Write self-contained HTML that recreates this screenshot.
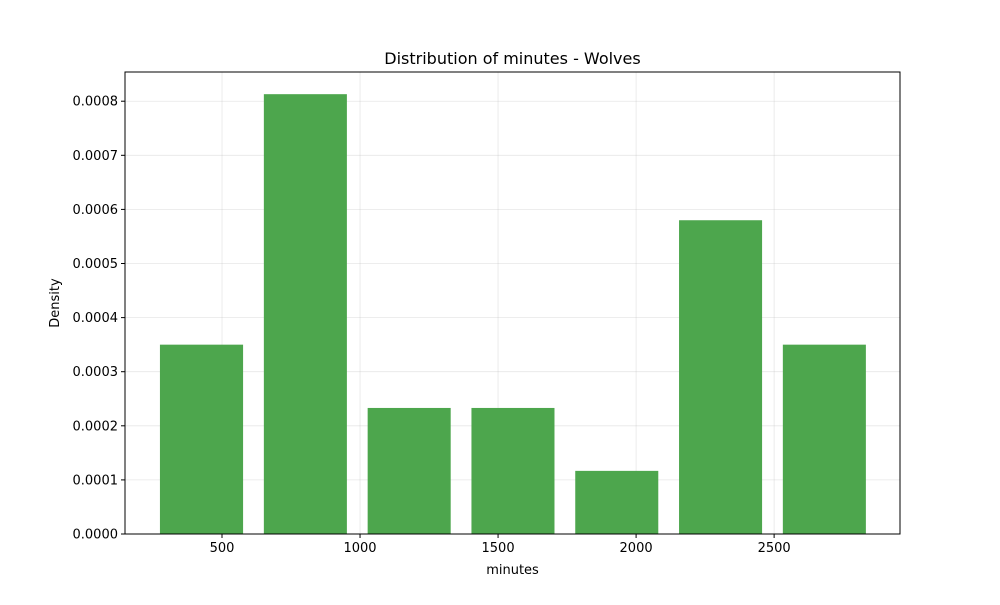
<!DOCTYPE html>
<html><head><meta charset="utf-8"><style>
body{margin:0;background:#fff;font-family:"Liberation Sans","DejaVu Sans",sans-serif;}
svg text{font-family:"DejaVu Sans","Liberation Sans",sans-serif;font-size:13px;fill:#000;}
</style></head><body>
<svg id="chart" width="1000" height="600"></svg>
<script>
const binEdges = [237.5, 614, 990, 1366, 1742, 2118, 2494, 2870];
const densities = [0.00035, 0.000813, 0.000233, 0.000233, 0.0001167, 0.00058, 0.00035];
const xTicks = [500, 1000, 1500, 2000, 2500];
const yTicks = [0, 0.0001, 0.0002, 0.0003, 0.0004, 0.0005, 0.0006, 0.0007, 0.0008];
const yTickLabels = ["0.0000","0.0001","0.0002","0.0003","0.0004","0.0005","0.0006","0.0007","0.0008"];

const L=125,R=900,T=72,B=534;
const xMin=148.6,xMax=2956,yMax=0.000854;
const sx=v=>L+(v-xMin)/(xMax-xMin)*(R-L);
const sy=v=>B-v/yMax*(B-T);
const svg=document.getElementById('chart');
const NS='http://www.w3.org/2000/svg';
function mk(tag,attrs,parent){const e=document.createElementNS(NS,tag);for(const k in attrs)e.setAttribute(k,attrs[k]);(parent||svg).appendChild(e);return e;}

const grid=mk('g',{});


xTicks.forEach(v=>{mk('line',{x1:sx(v),x2:sx(v),y1:T,y2:B,stroke:'#b0b0b0','stroke-opacity':0.3,'stroke-width':0.8},grid);});
yTicks.forEach(v=>{mk('line',{x1:L,x2:R,y1:sy(v),y2:sy(v),stroke:'#b0b0b0','stroke-opacity':0.3,'stroke-width':0.8},grid);});

densities.forEach((d,i)=>{
  const w=binEdges[i+1]-binEdges[i];
  const x0=binEdges[i]+0.1*w, x1=binEdges[i+1]-0.1*w;
  const r=mk('rect',{x:sx(x0),y:sy(d),width:sx(x1)-sx(x0),height:B-sy(d),fill:'#4da64d'});
  
  
});

const frame=mk('rect',{x:L,y:T,width:R-L,height:B-T,fill:'none',stroke:'#000','stroke-width':1});



xTicks.forEach(v=>{
  mk('line',{x1:sx(v),x2:sx(v),y1:B,y2:B+4,stroke:'#000'});
  const t=mk('text',{x:sx(v),y:B+18,'text-anchor':'middle'});t.textContent=v;
  
  
});
yTicks.forEach((v,i)=>{
  mk('line',{x1:L-4,x2:L,y1:sy(v),y2:sy(v),stroke:'#000'});
  const t=mk('text',{x:L-7,y:sy(v)+4.5,'text-anchor':'end'});t.textContent=yTickLabels[i];
  
  
});
const xt=mk('text',{x:(L+R)/2,y:574,'text-anchor':'middle'});xt.textContent='minutes';


const yt=mk('text',{x:59,y:(T+B)/2,'text-anchor':'middle',transform:`rotate(-90 59 ${(T+B)/2})`});yt.textContent='Density';


const tt=mk('text',{x:(L+R)/2,y:64,'text-anchor':'middle',style:'font-size:16px'});tt.textContent='Distribution of minutes - Wolves';


</script>
</body></html>
